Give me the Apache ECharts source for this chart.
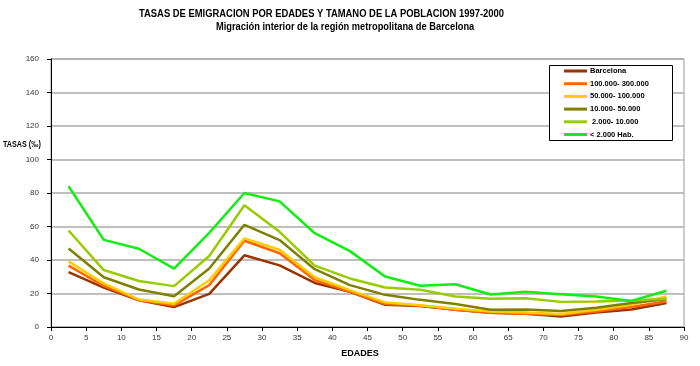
<!DOCTYPE html>
<html><head><meta charset="utf-8">
<script src="https://cdn.jsdelivr.net/npm/echarts@6/dist/echarts.min.js"></script>
<style>html,body{margin:0;padding:0;background:#fff}#c{width:700px;height:366px}</style>
</head><body><div id="c"></div>
<script>
const ages = [2.5,7.5,12.5,17.5,22.5,27.5,32.5,37.5,42.5,47.5,52.5,57.5,62.5,67.5,72.5,77.5,82.5,87.5];
const barcelona = [32.7,23.5,16,11.9,19.8,42.8,36.8,26.3,21,13.3,12.6,10.3,8.5,7.9,6.3,8.7,10.5,14.3];
const pob100_300 = [36.6,24.5,16,12.9,25,51.5,44,28,21,13.7,12.8,10.3,8.5,7.9,7.1,9.3,11.9,15.2];
const pob50_100 = [39.2,26,16.4,13.9,27.9,52.9,46.1,29.7,22,14.7,13,10.9,9.3,8.7,7.7,10.3,13.3,18.2];
const pob10_50 = [46.9,29.7,22.4,18.4,34.9,61,51.9,34.5,25,19.2,16.2,13.7,10.3,10.5,9.5,11.5,14.3,16.6];
const pob2_10 = [57.6,34,27.5,24.4,42.4,72.7,56.8,36.6,29,23.6,22.2,18.2,16.8,17.2,15,15.2,15.8,16.8];
const pobMenos2 = [84,52,46.7,34.9,56.2,80,75,56,45.3,30.1,24.6,25.5,19.4,21,19.6,18.2,15.6,21.6];
const seriesNames = ['Barcelona','100.000- 300.000','50.000- 100.000','10.000- 50.000',' 2.000- 10.000','< 2.000 Hab.'];
const seriesValues = [barcelona,pob100_300,pob50_100,pob10_50,pob2_10,pobMenos2];
const colors = ['#993300','#ff6600','#ffcc00','#808000','#99cc00','#11ee11'];
const titleText = 'TASAS DE EMIGRACION POR EDADES Y TAMANO DE LA POBLACION 1997-2000';
const subtitleText = 'Migración interior de la región metropolitana de Barcelona';

const FONT = '"Liberation Sans",Arial,sans-serif';
const chart = echarts.init(document.getElementById('c'));
chart.setOption({
  animation:false,
  backgroundColor:'#fff',
  graphic:[
    {type:'text',x:139,y:8,scaleX:0.855,style:{text:titleText,font:'bold 11px '+FONT,fill:'#000'}},
    {type:'text',x:216,y:21,scaleX:0.845,style:{text:subtitleText,font:'bold 11px '+FONT,fill:'#000'}},
    {type:'text',x:3,y:140,scaleX:0.8,style:{text:'TASAS (‰)',font:'bold 9px '+FONT,fill:'#000'}},
    {type:'rect',z:3,shape:{x:549.5,y:65.5,width:123,height:75},style:{fill:'#fff',stroke:'#000',lineWidth:1}}
  ],
  legend:{
    orient:'vertical',left:564,top:67,padding:0,z:5,
    itemWidth:23,itemHeight:3,itemGap:4.7,icon:'rect',
    textStyle:{fontFamily:FONT,fontSize:7.5,fontWeight:'bold',color:'#000',padding:[0,0,0,-2]},
    data:seriesNames
  },
  grid:{left:51,right:16,top:59,bottom:39,show:true,borderColor:'#999',borderWidth:1},
  xAxis:{type:'value',min:0,max:90,interval:5,
    name:'EDADES',nameLocation:'middle',nameGap:22,
    nameTextStyle:{fontFamily:FONT,fontSize:9,fontWeight:'bold',color:'#000',padding:[0,15,0,0]},
    axisLine:{lineStyle:{color:'#000',width:1}},
    axisTick:{show:true,length:4,lineStyle:{color:'#000'}},
    axisLabel:{fontFamily:FONT,fontSize:8,color:'#333',margin:7},
    splitLine:{show:false}},
  yAxis:{type:'value',min:0,max:160,interval:20,
    axisLine:{show:true,lineStyle:{color:'#000',width:1}},
    axisTick:{show:true,length:4,lineStyle:{color:'#000'}},
    axisLabel:{fontFamily:FONT,fontSize:8,color:'#333',margin:12},
    splitLine:{show:true,lineStyle:{color:'#aaa',width:1.5}}},
  series:seriesNames.map((n,i)=>({
    name:n,type:'line',symbol:'none',
    data:ages.map((a,j)=>[a,seriesValues[i][j]]),
    lineStyle:{color:colors[i],width:2.5},itemStyle:{color:colors[i]},z:2
  }))
});
</script></body></html>
